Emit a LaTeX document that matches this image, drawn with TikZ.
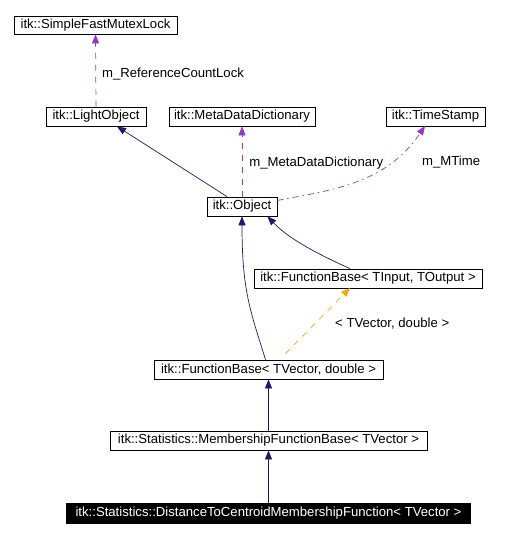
\documentclass[tikz,border=0pt]{standalone}
\usepackage{fontspec}
\setmainfont{Liberation Sans}
\usetikzlibrary{arrows.meta}
\definecolor{navy}{HTML}{191970}
\definecolor{usecol}{HTML}{9A32CD}
\definecolor{tmplcol}{HTML}{FFA500}

\begin{document}
\begin{tikzpicture}[x=1bp,y=-1bp,
  cls/.style={draw,line width=0.8pt,inner sep=0pt,minimum height=19bp,font=\fontsize{13.2}{15}\selectfont},
  lbl/.style={anchor=west,inner sep=0pt,text=black,font=\fontsize{13.2}{15}\selectfont},
  inh/.style={-{Triangle[length=9bp,width=7bp]},navy,line width=0.7pt},
  usage/.style={-{Triangle[length=9bp,width=7bp]},usecol,line width=0.7pt,dash pattern=on 6bp off 6bp},
  tmpl/.style={-{Triangle[length=9bp,width=7bp]},tmplcol,line width=0.7pt,dash pattern=on 6bp off 6bp}]
\useasboundingbox (0,0) rectangle (518,537);

\node (Mutex) at (95.5,25)[cls,minimum width=163bp,minimum height=18bp] {itk::SimpleFastMutexLock};
\node (Light) at (96,116.5)[cls,minimum width=100bp] {itk::LightObject};
\node (Meta) at (242,116.5)[cls,minimum width=146bp] {itk::MetaDataDictionary};
\node (Stamp) at (435.5,116.5)[cls,minimum width=99bp] {itk::TimeStamp};
\node (Object) at (242,206.5)[cls,minimum width=70bp] {itk::Object};
\node (FBio) at (368,278.5)[cls,minimum width=228bp] {itk::FunctionBase< TInput, TOutput >};
\node (FBvd) at (268.5,369.5)[cls,minimum width=229bp] {itk::FunctionBase< TVector, double >};
\node (MFB) at (268.5,440.5)[cls,minimum width=317bp] {itk::Statistics::MembershipFunctionBase< TVector >};
\node (DTC) at (268.5,513)[cls,minimum width=404bp,minimum height=20bp,fill=black,text=white] {itk::Statistics::DistanceToCentroidMembershipFunction< TVector >};

\draw [usage] (Light.north) -- (Mutex.south) node[lbl,pos=0.45,xshift=6bp] {m\_ReferenceCountLock};
\draw [inh] ([xshift=-15bp]Object.north) -- ([xshift=21bp]Light.south);
\draw [usage] (Object.north) -- (Meta.south) node[lbl,pos=0.48,xshift=7bp] {m\_MetaDataDictionary};
\draw [usage,dash pattern=on 6bp off 4bp on 1.5bp off 4bp] ([yshift=6bp]Object.east) .. controls (330,190) and (385,185) .. (425,126);
\node[lbl] (MTime) at (422,162) {m\_MTime};
\draw [inh] ([xshift=-3bp]FBvd.north) .. controls (250,310) and (242,290) .. (Object.south);
\draw [inh] ([xshift=-18bp]FBio.north) .. controls (320,255) and (290,240) .. ([xshift=-10bp]Object.south east);
\draw [tmpl] ([xshift=17bp,yshift=6bp]FBvd.north) -- (350,288);
\node[lbl] (TArgs) at (335,324) {< TVector, double >};
\draw [inh] (MFB) -- (FBvd);
\draw [inh] (DTC) -- (MFB);
\end{tikzpicture}
\end{document}
